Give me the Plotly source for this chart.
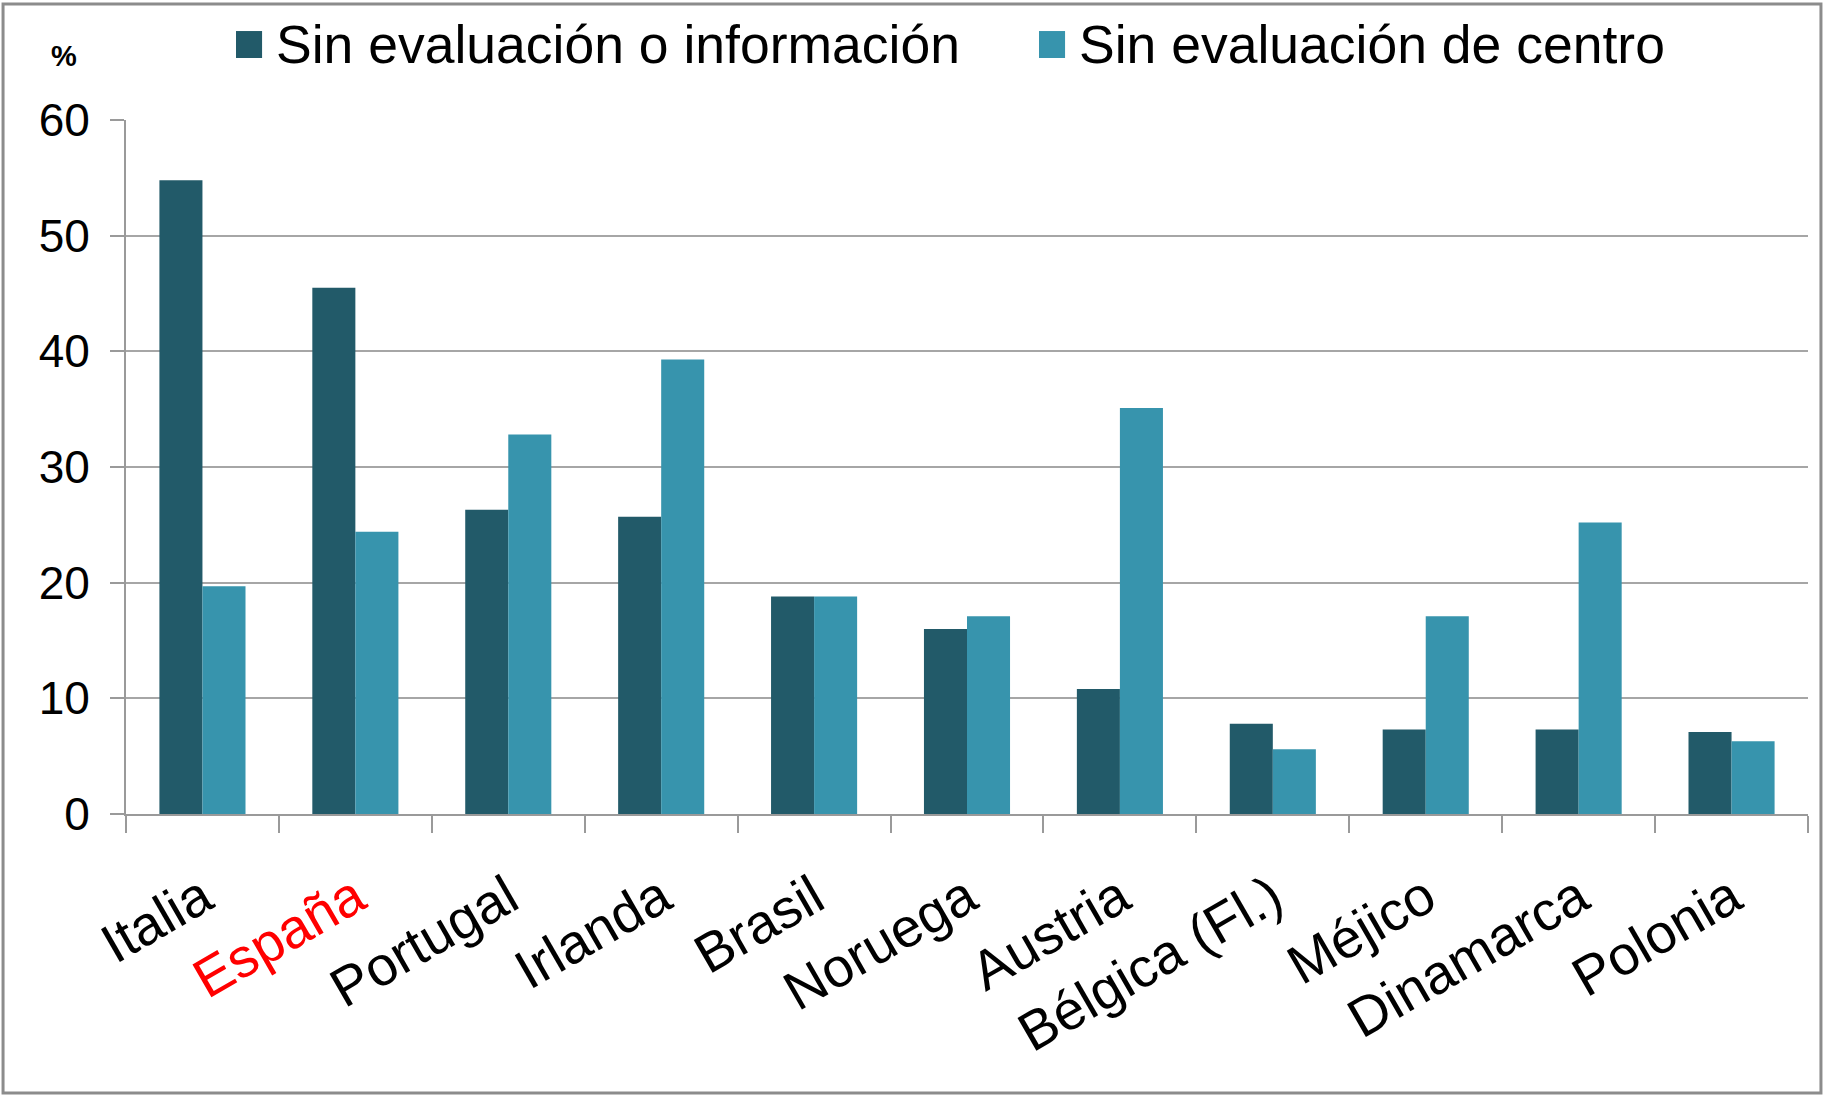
import plotly.graph_objects as go

paises = ['Italia', 'España', 'Portugal', 'Irlanda', 'Brasil', 'Noruega',
          'Austria', 'Bélgica (Fl.)', 'Méjico', 'Dinamarca', 'Polonia']
sin_eval_info = [54.8, 45.5, 26.3, 25.7, 18.8, 16.0, 10.8, 7.8, 7.3, 7.3, 7.1]
sin_eval_centro = [19.7, 24.4, 32.8, 39.3, 18.8, 17.1, 35.1, 5.6, 17.1, 25.2, 6.3]
series = ['Sin evaluación o información', 'Sin evaluación de centro']
colores = ['#225A69', '#3794AD']
y_ticks = [0, 10, 20, 30, 40, 50, 60]

# España en rojo
etiquetas = [f'<span style="color:#FF0000">{p}</span>' if p == 'España' else p for p in paises]

FONT = 'Liberation Sans, Arial, sans-serif'

fig = go.Figure()
for nombre, valores, color in zip(series, [sin_eval_info, sin_eval_centro], colores):
    fig.add_trace(go.Bar(x=paises, y=valores, name=nombre,
                         marker=dict(color=color, line=dict(width=0)),
                         showlegend=False))

fig.update_layout(
    width=1825, height=1096,
    margin=dict(l=126, r=17, t=120, b=282),
    paper_bgcolor='white', plot_bgcolor='white',
    barmode='group', bargap=0.437, bargroupgap=0,
    font=dict(family=FONT, color='black'),
)

fig.update_xaxes(
    tickvals=paises, ticktext=etiquetas, tickangle=-30,
    tickfont=dict(size=55), showgrid=False,
    showline=True, linecolor='#9A9A9A', linewidth=2,
    ticks='outside', tickson='boundaries', ticklen=17, tickwidth=2, tickcolor='#9A9A9A',
    ticklabelstandoff=28,
)
fig.update_yaxes(
    range=[0, 60], tickvals=y_ticks, tickfont=dict(size=46),
    showgrid=True, gridcolor='#A6A6A6', gridwidth=2,
    showline=True, linecolor='#9A9A9A', linewidth=2,
    ticks='outside', ticklen=14, tickwidth=2, tickcolor='#9A9A9A',
    ticklabelstandoff=11, zeroline=False,
)

# leyenda dibujada a mano para igualar el tamaño de los cuadrados
leg_x = [0.0654, 0.5428]
for nombre, color, x0 in zip(series, colores, leg_x):
    fig.add_shape(type='rect', xref='paper', yref='paper',
                  x0=x0, x1=x0 + 0.0155, y0=1.0893, y1=1.1282,
                  fillcolor=color, line=dict(width=0))
    fig.add_annotation(text=nombre, xref='paper', yref='paper',
                       x=x0 + 0.0225, y=1.1095, xanchor='left', yanchor='middle',
                       showarrow=False, font=dict(size=53.5, color='black'))

fig.add_annotation(text='<b>%</b>', xref='paper', yref='paper', x=-0.0369, y=1.092,
                   xanchor='center', yanchor='middle',
                   showarrow=False, font=dict(size=29, color='black'))

# marco exterior
fig.add_shape(type='rect', xref='paper', yref='paper',
              x0=-0.0731, x1=1.0077, y0=-0.402, y1=1.1671,
              line=dict(color='#8C8C8C', width=3), layer='below')

fig.write_html("out.html", config={'displayModeBar': False},
               post_script="document.body.style.margin='0';")
